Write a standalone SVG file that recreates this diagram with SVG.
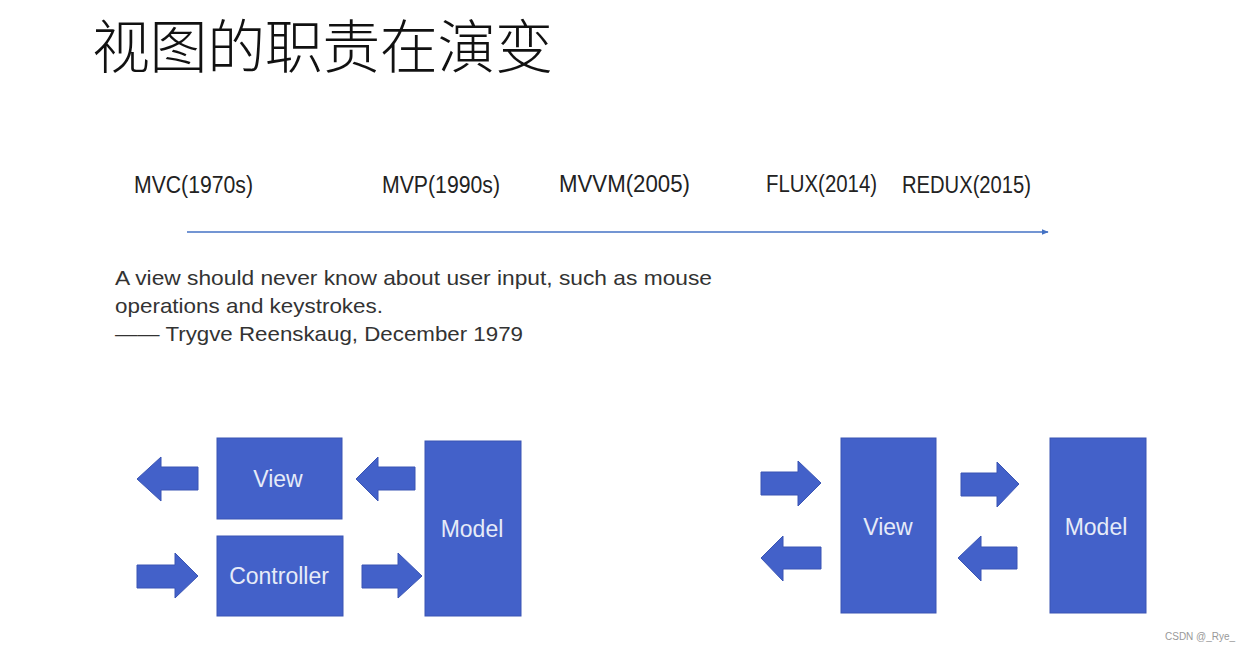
<svg xmlns="http://www.w3.org/2000/svg" width="1248" height="651" viewBox="0 0 1248 651">
  <style>
    .title { font-family: "Noto Sans CJK SC", "Noto Sans", sans-serif; font-weight: 300; font-size: 58px; fill: #111; }
    .tl { font-family: "Liberation Sans", Arial, sans-serif; font-size: 23px; fill: #222; }
    .quote { font-family: "Liberation Sans", Arial, sans-serif; font-size: 21px; fill: #333; }
    .box { fill: #4361C9; stroke: #3A55B4; stroke-width: 1; }
    .arr { fill: #4361C9; stroke: #3A55B4; stroke-width: 1; }
    .lbl { font-family: "Liberation Sans", Arial, sans-serif; font-size: 23px; fill: #E6EBF8; text-anchor: middle; }
    .wm { font-family: "Liberation Sans", Arial, sans-serif; font-size: 10px; fill: #999; }
  </style>
  <defs>
    <marker id="ah" viewBox="0 0 10 10" refX="9" refY="5" markerWidth="7" markerHeight="7" orient="auto" markerUnits="userSpaceOnUse">
      <path d="M0,1 L10,5 L0,9 z" fill="#4472C4"/>
    </marker>
  </defs>
  <rect width="1248" height="651" fill="#fff"/>

  <text class="title" x="92" y="68" textLength="461" lengthAdjust="spacing">视图的职责在演变</text>

  <g id="timeline-labels">
    <text class="tl" x="134" y="193" textLength="119" lengthAdjust="spacingAndGlyphs">MVC(1970s)</text>
    <text class="tl" x="382" y="193" textLength="118" lengthAdjust="spacingAndGlyphs">MVP(1990s)</text>
    <text class="tl" x="559" y="192" textLength="131" lengthAdjust="spacingAndGlyphs">MVVM(2005)</text>
    <text class="tl" x="766" y="192" textLength="111" lengthAdjust="spacingAndGlyphs">FLUX(2014)</text>
    <text class="tl" x="902" y="193" textLength="129" lengthAdjust="spacingAndGlyphs">REDUX(2015)</text>
  </g>

  <g id="quote">
    <text class="quote" x="115" y="285" textLength="597" lengthAdjust="spacingAndGlyphs">A view should never know about user input, such as mouse</text>
    <text class="quote" x="115" y="313" textLength="268" lengthAdjust="spacingAndGlyphs">operations and keystrokes.</text>
    <text class="quote" x="115" y="341" textLength="408" lengthAdjust="spacingAndGlyphs">—— Trygve Reenskaug, December 1979</text>
  </g>

  <g id="mvc-view"><rect class="box" x="217" y="438" width="125" height="81"/><text class="lbl" x="278" y="487">View</text></g>
  <g id="mvc-controller"><rect class="box" x="217" y="536" width="126" height="80"/><text class="lbl" x="279" y="584">Controller</text></g>
  <g id="mvc-model"><rect class="box" x="425" y="441" width="96" height="175"/><text class="lbl" x="472" y="537">Model</text></g>

  <g id="mvvm-view"><rect class="box" x="841" y="438" width="95" height="175"/><text class="lbl" x="888" y="535">View</text></g>
  <g id="mvvm-model"><rect class="box" x="1050" y="438" width="96" height="175"/><text class="lbl" x="1096" y="535">Model</text></g>

  <g id="connectors">
    <line x1="187" y1="232" x2="1048" y2="232" stroke="#4472C4" stroke-width="1.5" marker-end="url(#ah)"/>
    <polygon class="arr" points="137,479 161,457 161,467 198,467 198,490 161,490 161,501"/>
    <polygon class="arr" points="356,479 378,457 378,467 415,467 415,490 378,490 378,501"/>
    <polygon class="arr" points="137,565 175,565 175,553 198,576 175,598 175,588 137,588"/>
    <polygon class="arr" points="362,565 398,565 398,553 422,576 398,598 398,588 362,588"/>
    <polygon class="arr" points="761,472 798,472 798,461 821,483 798,506 798,495 761,495"/>
    <polygon class="arr" points="761,558 783,536 783,547 821,547 821,569 783,569 783,581"/>
    <polygon class="arr" points="961,473 997,473 997,462 1019,484 997,507 997,496 961,496"/>
    <polygon class="arr" points="958,558 981,536 981,547 1017,547 1017,569 981,569 981,581"/>
  </g>

  <text class="wm" x="1165" y="640">CSDN @_Rye_</text>
</svg>
